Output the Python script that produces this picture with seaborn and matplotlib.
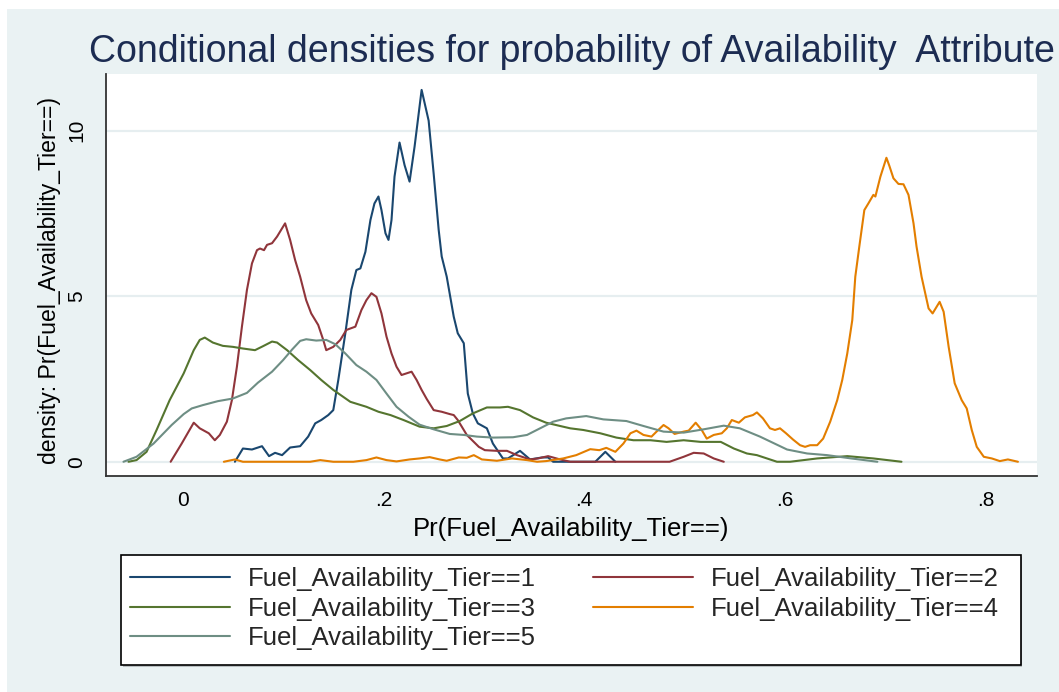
import matplotlib
matplotlib.use("Agg")
import matplotlib.pyplot as plt
from matplotlib.patches import Rectangle
import pandas as pd
import seaborn as sns

# ---- data: kernel density estimates of predicted probability, by tier ----
tier_labels = [
    "Fuel_Availability_Tier==1",
    "Fuel_Availability_Tier==2",
    "Fuel_Availability_Tier==3",
    "Fuel_Availability_Tier==4",
    "Fuel_Availability_Tier==5",
]

tier1_x = [0.052, 0.060, 0.069, 0.079, 0.086, 0.092, 0.099, 0.107, 0.117, 0.125,
           0.132, 0.138, 0.145, 0.150, 0.155, 0.162, 0.168, 0.173, 0.177, 0.182,
           0.187, 0.191, 0.195, 0.198, 0.202, 0.205, 0.208, 0.211, 0.216, 0.221,
           0.226, 0.231, 0.238, 0.245, 0.250, 0.255, 0.258, 0.263, 0.270, 0.274,
           0.280, 0.284, 0.289, 0.294, 0.303, 0.309, 0.319, 0.324, 0.336, 0.346,
           0.358, 0.364, 0.369, 0.386, 0.411, 0.421, 0.431]
tier1_y = [0.00, 0.40, 0.37, 0.47, 0.17, 0.27, 0.20, 0.43, 0.47, 0.76,
           1.16, 1.26, 1.41, 1.56, 2.47, 3.88, 5.19, 5.79, 5.84, 6.34,
           7.30, 7.80, 8.01, 7.60, 6.90, 6.70, 7.30, 8.61, 9.64, 8.96,
           8.46, 9.52, 11.23, 10.30, 8.70, 7.00, 6.20, 5.59, 4.38, 3.88,
           3.58, 2.06, 1.46, 1.16, 1.01, 0.55, 0.10, 0.10, 0.33, 0.07,
           0.13, 0.13, 0.00, 0.00, 0.00, 0.30, 0.00]

tier2_x = [-0.012, -0.001, 0.011, 0.017, 0.026, 0.032, 0.037, 0.044, 0.049, 0.054,
           0.059, 0.064, 0.069, 0.074, 0.077, 0.081, 0.084, 0.089, 0.094, 0.102,
           0.107, 0.112, 0.117, 0.123, 0.128, 0.135, 0.140, 0.143, 0.150, 0.157,
           0.163, 0.172, 0.178, 0.183, 0.188, 0.193, 0.198, 0.203, 0.208, 0.213,
           0.218, 0.223, 0.228, 0.233, 0.238, 0.243, 0.250, 0.258, 0.266, 0.270,
           0.274, 0.283, 0.295, 0.301, 0.313, 0.323, 0.333, 0.346, 0.354, 0.364,
           0.376, 0.386, 0.436, 0.485, 0.499, 0.509, 0.519, 0.529, 0.539]
tier2_y = [0.00, 0.55, 1.18, 1.01, 0.86, 0.65, 0.81, 1.21, 1.86, 2.87,
           4.08, 5.19, 5.99, 6.39, 6.44, 6.39, 6.55, 6.60, 6.80, 7.20,
           6.70, 6.09, 5.59, 4.88, 4.48, 4.13, 3.68, 3.37, 3.47, 3.68,
           3.98, 4.08, 4.58, 4.88, 5.09, 4.98, 4.48, 3.78, 3.27, 2.87,
           2.62, 2.67, 2.72, 2.47, 2.17, 1.90, 1.56, 1.51, 1.44, 1.41,
           1.26, 0.81, 0.45, 0.35, 0.33, 0.33, 0.20, 0.07, 0.10, 0.17,
           0.07, 0.00, 0.00, 0.00, 0.15, 0.27, 0.25, 0.10, 0.00]

tier3_x = [-0.054, -0.046, -0.036, -0.026, -0.013, 0.001, 0.011, 0.017, 0.022, 0.030,
           0.040, 0.050, 0.060, 0.072, 0.080, 0.089, 0.094, 0.104, 0.115, 0.127,
           0.138, 0.150, 0.167, 0.183, 0.195, 0.207, 0.220, 0.236, 0.250, 0.263,
           0.276, 0.289, 0.303, 0.316, 0.324, 0.336, 0.349, 0.362, 0.376, 0.386,
           0.399, 0.416, 0.432, 0.449, 0.466, 0.482, 0.499, 0.516, 0.536, 0.549,
           0.562, 0.572, 0.592, 0.605, 0.632, 0.662, 0.688, 0.716]
tier3_y = [0.00, 0.05, 0.30, 0.96, 1.86, 2.67, 3.37, 3.68, 3.75, 3.60,
           3.50, 3.47, 3.42, 3.37, 3.49, 3.63, 3.60, 3.37, 3.07, 2.77,
           2.47, 2.17, 1.81, 1.66, 1.51, 1.41, 1.26, 1.06, 1.01, 1.08,
           1.23, 1.46, 1.64, 1.64, 1.66, 1.56, 1.34, 1.18, 1.08, 1.01,
           0.96, 0.86, 0.73, 0.65, 0.65, 0.60, 0.65, 0.60, 0.60, 0.40,
           0.25, 0.20, 0.00, 0.00, 0.10, 0.17, 0.10, 0.00]

tier4_x = [0.041, 0.052, 0.060, 0.127, 0.137, 0.150, 0.170, 0.183, 0.193, 0.203,
           0.213, 0.226, 0.236, 0.246, 0.256, 0.263, 0.275, 0.283, 0.290, 0.298,
           0.313, 0.328, 0.343, 0.353, 0.362, 0.379, 0.392, 0.406, 0.415, 0.422,
           0.431, 0.439, 0.446, 0.452, 0.459, 0.467, 0.472, 0.479, 0.484, 0.490,
           0.499, 0.504, 0.511, 0.517, 0.522, 0.529, 0.537, 0.542, 0.547, 0.554,
           0.560, 0.568, 0.572, 0.578, 0.585, 0.590, 0.595, 0.601, 0.608, 0.615,
           0.620, 0.625, 0.632, 0.638, 0.645, 0.652, 0.657, 0.662, 0.667, 0.670,
           0.674, 0.679, 0.683, 0.688, 0.690, 0.695, 0.701, 0.704, 0.708, 0.713,
           0.718, 0.723, 0.728, 0.731, 0.736, 0.743, 0.747, 0.751, 0.754, 0.758,
           0.763, 0.769, 0.776, 0.781, 0.786, 0.791, 0.798, 0.806, 0.814, 0.822,
           0.832]
tier4_y = [0.00, 0.07, 0.00, 0.00, 0.05, 0.00, 0.00, 0.05, 0.13, 0.05,
           0.01, 0.07, 0.10, 0.14, 0.07, 0.03, 0.13, 0.12, 0.20, 0.07,
           0.03, 0.10, 0.05, 0.00, 0.02, 0.10, 0.20, 0.38, 0.35, 0.42,
           0.30, 0.55, 0.86, 0.94, 0.81, 0.76, 0.91, 1.11, 1.01, 0.84,
           0.91, 0.94, 1.18, 0.96, 0.70, 0.81, 0.86, 1.01, 1.26, 1.18,
           1.34, 1.41, 1.49, 1.31, 1.01, 0.96, 1.01, 0.86, 0.67, 0.50,
           0.45, 0.50, 0.50, 0.70, 1.21, 1.86, 2.47, 3.27, 4.28, 5.59,
           6.50, 7.60, 7.80, 8.06, 8.01, 8.61, 9.18, 8.93, 8.56, 8.39,
           8.38, 8.06, 7.20, 6.50, 5.59, 4.63, 4.48, 4.68, 4.83, 4.53,
           3.47, 2.37, 1.86, 1.61, 0.96, 0.45, 0.15, 0.10, 0.02, 0.07,
           0.00]

tier5_x = [-0.059, -0.046, -0.029, -0.011, 0.001, 0.009, 0.020, 0.035, 0.050, 0.064,
           0.075, 0.089, 0.100, 0.109, 0.117, 0.123, 0.133, 0.143, 0.152, 0.162,
           0.173, 0.183, 0.193, 0.203, 0.213, 0.225, 0.236, 0.250, 0.266, 0.280,
           0.293, 0.309, 0.329, 0.343, 0.356, 0.369, 0.382, 0.402, 0.419, 0.442,
           0.459, 0.479, 0.499, 0.519, 0.539, 0.555, 0.575, 0.602, 0.622, 0.642,
           0.666, 0.692]
tier5_y = [0.00, 0.15, 0.55, 1.11, 1.44, 1.61, 1.71, 1.83, 1.91, 2.08,
           2.39, 2.72, 3.07, 3.39, 3.65, 3.70, 3.66, 3.68, 3.55, 3.27,
           2.92, 2.72, 2.47, 2.06, 1.66, 1.36, 1.12, 0.98, 0.84, 0.81,
           0.76, 0.73, 0.74, 0.81, 1.01, 1.21, 1.31, 1.38, 1.28, 1.23,
           1.08, 0.91, 0.88, 0.98, 1.09, 1.01, 0.76, 0.37, 0.25, 0.20,
           0.10, 0.00]

x_ticks = [0, 0.2, 0.4, 0.6, 0.8]
x_tick_labels = ["0", ".2", ".4", ".6", ".8"]
y_ticks = [0, 5, 10]
y_tick_labels = ["0", "5", "10"]

title = "Conditional densities for probability of Availability  Attribute"
x_title = "Pr(Fuel_Availability_Tier==)"
y_title = "density: Pr(Fuel_Availability_Tier==)"

palette = ["#1a476f", "#90353b", "#55752f", "#e37e00", "#6e8e84"]

# ---- long-form table for seaborn ----
series = [(tier1_x, tier1_y), (tier2_x, tier2_y), (tier3_x, tier3_y),
          (tier4_x, tier4_y), (tier5_x, tier5_y)]
frames = []
for lab, (xs, ys) in zip(tier_labels, series):
    frames.append(pd.DataFrame({"pr": xs, "density": ys, "tier": lab}))
df = pd.concat(frames, ignore_index=True)

sns.set_theme(style="white")
plt.rcParams["font.family"] = ["Liberation Sans", "DejaVu Sans"]

W, H = 1059, 692
fig = plt.figure(figsize=(W / 100, H / 100), dpi=100, facecolor="white")
fig.patches.append(Rectangle((7 / W, 0), 1 - 7 / W, 1 - 9 / H,
                             transform=fig.transFigure, facecolor="#EAF2F3",
                             edgecolor="none", zorder=-10))

ax = fig.add_axes([106 / W, 1 - 476 / H, (1037 - 106) / W, (476 - 74) / H])
ax.set_facecolor("white")

sns.lineplot(data=df, x="pr", y="density", hue="tier", hue_order=tier_labels,
             palette=palette, sort=False, estimator=None, linewidth=1.5, ax=ax)

ax.set_xlim(-0.0764, 0.851)
ax.set_ylim(-0.43, 11.71)
ax.set_xticks(x_ticks)
ax.set_xticklabels(x_tick_labels)
ax.set_yticks(y_ticks)
ax.set_yticklabels(y_tick_labels)
ax.set_xlabel("")
ax.set_ylabel("")

ax.set_axisbelow(True)
ax.yaxis.grid(True, color="#E6EEF0", linewidth=1.6)
ax.xaxis.grid(False)
for side in ["top", "right"]:
    ax.spines[side].set_visible(False)
for side in ["left", "bottom"]:
    ax.spines[side].set_color("#333333")
    ax.spines[side].set_linewidth(1.3)

ax.tick_params(axis="both", direction="out", length=7, width=1.0,
               color="#333333", labelsize=15, labelcolor="black")
ax.tick_params(axis="x", pad=4)
ax.tick_params(axis="y", pad=7, labelrotation=90)
for lbl in ax.get_yticklabels():
    lbl.set_va("center")

fig.text(572 / W, 1 - 52 / H, title, ha="center", va="center",
         fontsize=27, color="#1c2c52")
fig.text(571 / W, 1 - 529 / H, x_title, ha="center", va="center",
         fontsize=18.5, color="black")
fig.text(50 / W, 1 - 281 / H, y_title, ha="center", va="center",
         rotation=90, fontsize=16.6, color="black")

# legend box, drawn with a faint drop shadow
box_l, box_t, box_r, box_b = 121, 555, 1021, 665
fig.patches.append(Rectangle(((box_l + 1.5) / W, 1 - (box_b + 1.5) / H),
                             (box_r - box_l) / W, (box_b - box_t) / H,
                             transform=fig.transFigure, facecolor="#b9bfc1",
                             edgecolor="none", zorder=1))
fig.patches.append(Rectangle((box_l / W, 1 - box_b / H),
                             (box_r - box_l) / W, (box_b - box_t) / H,
                             transform=fig.transFigure, facecolor="white",
                             edgecolor="black", linewidth=1.2, zorder=2))

handles, labels = ax.get_legend_handles_labels()
ax.get_legend().remove()
order = [0, 2, 4, 1, 3]
leg = fig.legend([handles[i] for i in order], [labels[i] for i in order],
                 ncol=2, loc="upper left",
                 bbox_to_anchor=(121 / W, 1 - 558 / H),
                 bbox_transform=fig.transFigure,
                 frameon=False, fontsize=18.5,
                 handlelength=3.9, handletextpad=0.7, columnspacing=2.2,
                 labelspacing=0.22, borderpad=0.35, borderaxespad=0)
leg.set_zorder(3)
for line in leg.get_lines():
    line.set_linewidth(1.5)

fig.savefig("out.png", dpi=100, facecolor="white")
